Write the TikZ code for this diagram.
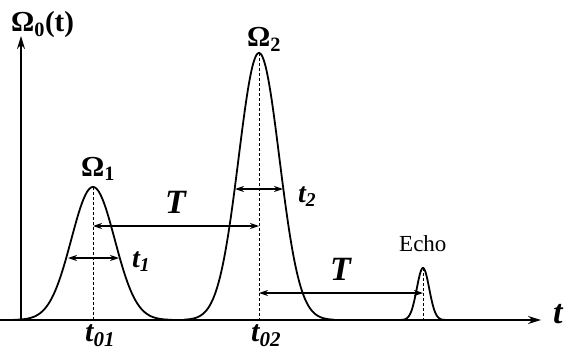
\documentclass[tikz,border=0pt]{standalone}
\usepackage{fontspec}
\setmainfont{Liberation Serif}
\usetikzlibrary{arrows.meta}
\tikzset{
  axisline/.style={line width=1.8pt,-{Stealth[length=13pt,width=8pt]}},
  pulse/.style={line width=1.8pt},
  guide/.style={line width=0.9pt,dash pattern=on 3pt off 2pt},
  dimarrow/.style={line width=1.2pt,{Stealth[length=9pt,width=6pt]}-{Stealth[length=9pt,width=6pt]}},
  biglabel/.style={font=\fontsize{29}{31}\selectfont\bfseries, inner sep=0pt, anchor=base west},
  symlabel/.style={font=\fontsize{34}{36}\selectfont\bfseries\itshape, inner sep=0pt, anchor=base west},
  tlabel/.style={font=\fontsize{30}{32}\selectfont\bfseries\itshape, inner sep=0pt, anchor=base west},
  smalllabel/.style={font=\fontsize{23}{25}\selectfont, inner sep=0pt, anchor=base west}
}
\begin{document}
\begin{tikzpicture}[x=1pt,y=-1pt]
\useasboundingbox (0,0) rectangle (564,350);
% axes
\coordinate (origin) at (21,320);
\coordinate (yend) at (21,36);
\coordinate (xend) at (541,320);
\coordinate (xstart) at (0,320);
\draw[line width=1.8pt] (xstart) -- (origin);
\draw[axisline] (origin) -- (yend);
\draw[axisline] (origin) -- (xend);
% pulses
\draw[pulse] plot[domain=14:172, samples=120, smooth] (\x, {320 - 133*exp(-((\x-93)/21.7)^2/2)});
\draw[pulse] plot[domain=184:334, samples=140, smooth] (\x, {320 - 267*exp(-((\x-259)/20.4)^2/2)});
\draw[pulse] plot[domain=401:445, samples=60, smooth] (\x, {320 - 52*exp(-((\x-423)/6.2)^2/2)});
% peaks and bases
\coordinate (p1) at (93,187);
\coordinate (b1) at (93,320);
\coordinate (p2) at (259,53);
\coordinate (b2) at (259,320);
\coordinate (p3) at (423,268);
\coordinate (b3) at (423,320);
\draw[guide] (p1) -- (b1);
\draw[guide] (p2) -- (b2);
\draw[guide] (p3) -- (b3);
% width arrows
\coordinate (w1l) at (68,258);
\coordinate (w1r) at (119,258);
\coordinate (w2l) at (235,189);
\coordinate (w2r) at (283,189);
\draw[dimarrow] (w1l) -- (w1r);
\draw[dimarrow] (w2l) -- (w2r);
% T arrows
\coordinate (T1a) at (93,226);
\coordinate (T1b) at (259,226);
\coordinate (T2a) at (259,293);
\coordinate (T2b) at (423,293);
\draw[dimarrow] (T1a) -- (T1b);
\draw[dimarrow] (T2a) -- (T2b);
% labels
\node[biglabel] (Om0) at (11,32) {Ω\textsubscript{0}(t)};
\node[biglabel] (Om1) at (81,176) {Ω\textsubscript{1}};
\node[biglabel] (Om2) at (247,47) {Ω\textsubscript{2}};
\node[smalllabel] (echo) at (399,251) {Echo};
\node[symlabel] (Tlab1) at (165,213) {T};
\node[symlabel] (Tlab2) at (330,280) {T};
\node[tlabel,font=\fontsize{28}{30}\selectfont\bfseries\itshape] (t1) at (132,267) {t\textsubscript{1}};
\node[tlabel,font=\fontsize{28}{30}\selectfont\bfseries\itshape] (t2) at (298,202) {t\textsubscript{2}};
\node[tlabel] (t01) at (85,341) {t\textsubscript{01}};
\node[tlabel] (t02) at (251,341) {t\textsubscript{02}};
\node[symlabel] (tax) at (553,323) {t};
\end{tikzpicture}
\end{document}
